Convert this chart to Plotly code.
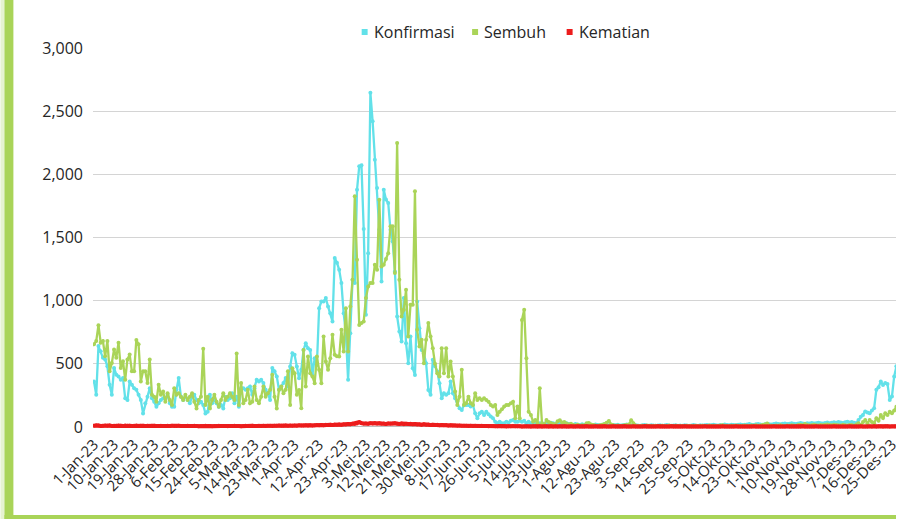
import plotly.graph_objects as go

# ---------------- data (daily, 1-Jan-23 onward) ----------------
konfirmasi = [
    360, 254, 640, 600, 547, 534, 480, 334, 254, 467,
    414, 400, 374, 387, 227, 214, 360, 334, 307, 294,
    254, 214, 107, 187, 240, 307, 227, 200, 160, 187,
    214, 227, 227, 254, 187, 160, 160, 294, 387, 240,
    214, 240, 214, 187, 240, 254, 214, 187, 200, 174,
    107, 120, 254, 187, 214, 187, 160, 174, 147, 240,
    214, 227, 267, 187, 240, 160, 307, 307, 294, 307,
    320, 254, 307, 374, 360, 374, 347, 294, 267, 214,
    467, 440, 400, 294, 320, 347, 387, 320,
    # day 88 onward
    478, 584, 571, 478, 386, 452, 610, 663, 624, 610, 412, 544, 491, 940, 993, 993, 1020, 954, 901, 835, 1337,
    1300,
    1244, 1139, 901, 742, 373, 742, 1165, 1139, 1878, 2063, 2071, 1567, 888, 1376, 2645, 2420, 2116, 1892, 1561, 1152, 1878,
    1800,
    1773, 1561, 1469, 1231, 875, 756, 676, 1020, 663, 505, 716, 465, 412, 993, 782, 610, 584, 505, 293, 254, 531,
    480,
    439, 346, 227, 267, 254, 267, 359, 267, 227, 201, 148, 135, 174, 174, 174, 161, 174, 108, 69, 108, 121, 95, 121,
    100,
    # day 178 onward
    82, 69, 42, 29, 42, 29, 29, 42, 34, 50, 55, 42, 42, 50, 42, 50, 29, 42, 29, 29, 34, 24, 29, 29, 24,
    # day 203 onward
    29, 24, 34, 29, 24, 29, 34, 24, 20, 29,
    24, 20, 18, 24, 20, 16, 22, 18, 20, 16,
    18, 14, 20, 16, 14, 18, 22, 16, 14, 12,
    16, 14, 18, 12, 14, 16, 20, 14, 12, 16,
    14, 12, 10, 14, 16, 12, 10, 14, 12, 10,
    12, 14, 10, 12, 16, 12, 10, 12, 14, 10,
    12, 10, 14, 12, 10, 12, 16, 12, 10, 14,
    12, 14, 16, 12, 14, 18, 14, 12, 16, 14,
    20, 16, 14, 18, 16, 14, 18, 20, 16, 18,
    20, 24, 18, 16, 22, 24, 20, 18, 22, 26,
    22, 20, 24, 28, 24, 22, 26, 28, 24, 26,
    30, 26, 24, 28, 32, 28, 26, 30, 28, 32,
    28, 30, 34, 30, 28, 32, 36, 30, 34, 38,
    34, 40, 36, 32, 38, 42, 36, 40, 34,
    # day 342 onward
    29, 55, 80, 95, 122, 115, 108, 130, 148, 294, 315, 360, 333, 347, 340, 214, 241, 400, 480, 495,
]

sembuh = [
    654, 680, 806, 667, 680, 560, 680, 440, 507, 614,
    547, 667, 467, 520, 374, 534, 574, 440, 440, 689,
    654, 360, 440, 440, 347, 534, 254, 240, 200, 334,
    254, 280, 200, 267, 214, 174, 307, 254, 267, 240,
    214, 254, 214, 240, 267, 200, 147, 214, 240, 620,
    174, 240, 147, 214, 254, 200, 160, 214, 267, 214,
    240, 267, 240, 214, 582, 174, 347, 187, 214, 294,
    187, 200, 320, 214, 187, 240, 320, 240, 267, 294,
    414, 240, 147, 294, 320, 267, 294, 440,
    # day 88 onward
    174, 465, 425, 254, 293, 148, 610, 320, 557, 425, 399, 346, 557, 452, 346, 716, 518, 452, 544, 729, 571,
    560,
    557, 769, 597, 940, 597, 954, 1165, 1826, 1324, 808, 822, 835, 1020, 1112, 1139, 1139, 1284, 1244, 1799, 1271, 1284,
    1330,
    1376, 1588, 1588, 1218, 2248, 1165, 875, 927, 1086, 716, 967, 967, 1865, 769, 637, 690, 505, 690, 822, 716, 624,
    500,
    425, 399, 624, 425, 624, 399, 518, 399, 280, 174, 240, 452, 174, 188, 240, 188, 174, 267, 214, 227, 214, 227, 214,
    200,
    # day 178 onward
    174, 161, 174, 95, 121, 140, 161, 174, 174, 187, 200, 69, 161, 69, 847, 927, 544, 121, 95, 42, 55, 29, 306, 29, 16,
    # day 203 onward
    55, 40, 30, 24, 20, 45, 53, 35, 40, 28,
    20, 26, 16, 12, 18, 10, 14, 12, 30, 32,
    20, 16, 12, 10, 14, 18, 24, 34, 48, 20,
    14, 10, 12, 8, 10, 14, 16, 20, 53, 30,
    12, 8, 6, 10, 8, 12, 10, 6, 8, 10,
    6, 8, 10, 6, 8, 12, 8, 6, 10, 8,
    6, 8, 6, 10, 8, 6, 8, 10, 6, 8,
    10, 8, 6, 12, 8, 10, 6, 8, 12, 14,
    10, 8, 6, 10, 8, 12, 10, 8, 10, 12,
    10, 8, 12, 10, 14, 10, 12, 16, 20, 28,
    12, 10, 8, 12, 10, 14, 10, 8, 12, 10,
    14, 12, 10, 16, 18, 14, 24, 16, 12, 14,
    18, 14, 12, 16, 14, 18, 20, 16, 14, 18,
    16, 14, 12, 18, 14, 12, 16,
    # day 340 onward
    16, 10, 20, 29, 16, 40, 55, 29, 55, 40, 29, 69, 50, 95, 70, 108, 95, 120, 108, 130, 160, 190,
]

kematian = [
    10, 14, 12, 8, 10, 12, 9, 11, 8, 10,
    9, 12, 10, 8, 11, 9, 10, 8, 9, 11,
    8, 10, 9, 7, 9, 8, 10, 9, 8, 7,
    9, 8, 7, 9, 8, 10, 7, 8, 9, 7,
    8, 7, 9, 8, 7, 9, 8, 6, 8, 7,
    9, 7, 8, 6, 8, 7, 9, 8, 7, 8,
    6, 8, 7, 9, 7, 8, 6, 8, 9, 7,
    8, 9, 7, 8, 10, 8, 9, 7, 9, 10,
    8, 10, 9, 11, 9, 10, 12, 10, 11, 9,
    12, 10, 13, 11, 12, 14, 12, 13, 11, 14,
    15, 13, 16, 14, 17, 15, 18, 16, 19, 17,
    20, 18, 22, 20, 24, 22, 26, 24, 28, 38,
    30, 26, 28, 25, 30, 27, 32, 28, 30, 26,
    28, 24, 27, 25, 28, 30, 26, 24, 27, 22,
    25, 23, 26, 21, 24, 20, 22, 18, 21, 17,
    19, 16, 18, 15, 17, 14, 16, 13, 15, 12,
    13, 11, 12, 10, 11, 9, 10, 9, 8, 10, 8, 9, 7, 8, 9, 7, 8, 6, 7, 8,
    6, 5, 7, 5, 6, 4, 6, 5, 7, 5,
    5, 6, 4, 5, 6, 5, 4, 6, 5, 4,
    5, 4, 6, 5, 4, 5, 3, 5, 4, 5,
    4, 5, 3, 4, 5, 4, 3, 5, 4, 3,
    4, 5, 3, 4, 3, 5, 4, 3, 4, 5,
    3, 4, 3, 5, 4, 3, 4, 3, 5, 4,
    3, 4, 5, 3, 4, 3, 4, 5, 3, 4,
    3, 4, 3, 5, 3, 4, 3, 4, 3, 5,
    4, 3, 4, 3, 4, 5, 3, 4, 3, 4,
    3, 4, 3, 4, 5, 3, 4, 3, 4, 3,
    4, 3, 5, 4, 3, 4, 3, 4, 5, 3,
    4, 3, 4, 3, 4, 3, 5, 4, 3, 4,
    3, 4, 3, 4, 3, 5, 4, 3, 4, 3,
    4, 5, 3, 4, 3, 4, 3, 4, 5, 3,
    4, 3, 4, 3, 5, 4, 3, 4, 3, 4,
    3, 4, 5, 3, 4, 3, 4, 3, 4, 5,
    4, 3, 4, 3, 5, 4, 3, 4, 5, 4,
    5, 4, 6, 5, 4, 5, 6, 4, 5, 6,
    5, 4,
]

tick_labels = ["1-Jan-23", "10-Jan-23", "19-Jan-23", "28-Jan-23", "6-Feb-23", "15-Feb-23",
               "24-Feb-23", "5-Mar-23", "14-Mar-23", "23-Mar-23", "1-Apr-23", "12-Apr-23",
               "23-Apr-23", "3-Mei-23", "12-Mei-23", "21-Mei-23", "30-Mei-23", "8-Jun-23",
               "17-Jun-23", "26-Jun-23", "5-Jul-23", "14-Jul-23", "23-Jul-23", "1-Agu-23",
               "12-Agu-23", "23-Agu-23", "3-Sep-23", "14-Sep-23", "25-Sep-23", "5-Okt-23",
               "14-Okt-23", "23-Okt-23", "1-Nov-23", "10-Nov-23", "19-Nov-23", "28-Nov-23",
               "7-Des-23", "16-Des-23", "25-Des-23"]
tick_days = [0, 9, 18, 27, 36, 45, 54, 63, 72, 81, 90, 101, 112, 122, 131, 140, 149, 158,
             167, 176, 185, 194, 203, 212, 223, 234, 245, 256, 267, 277, 286, 295, 304,
             313, 322, 331, 340, 349, 358]

series_names = ["Konfirmasi", "Sembuh", "Kematian"]
series_colors = ["#62E1E9", "#AAD458", "#EC1C1C"]
series_widths = [2.3, 2.3, 4]

# ---------------- figure ----------------
fig = go.Figure()
for name, vals, color, w in zip(series_names, [konfirmasi, sembuh, kematian], series_colors, series_widths):
    fig.add_trace(go.Scatter(
        x=list(range(len(vals))), y=vals, mode="lines+markers", name=name,
        line=dict(color=color, width=w), marker=dict(color=color, size=4),
        showlegend=False, hoverinfo="skip",
    ))

W, H = 900, 519
ML, MR, MT, MB = 93, 0, 48, 87
pw, ph = W - ML - MR, H - MT - MB


def px(xpix):
    return (xpix - ML) / pw


def py(ypix):
    return (H - MB - ypix) / ph


shapes = [
    dict(type="rect", xref="paper", yref="paper", x0=px(0), x1=px(4), y0=py(H), y1=py(0),
         fillcolor="#E6F3D0", line=dict(width=0), layer="below"),
    dict(type="rect", xref="paper", yref="paper", x0=px(4), x1=px(13), y0=py(H), y1=py(0),
         fillcolor="#A9D458", line=dict(width=0), layer="below"),
    dict(type="rect", xref="paper", yref="paper", x0=px(4), x1=px(W), y0=py(H), y1=py(515),
         fillcolor="#A9D458", line=dict(width=0), layer="below"),
]

# legend (key squares + labels), laid out like the original
legend_square_x = [366, 477, 572]
annotations = []
for name, color, sx in zip(series_names, series_colors, legend_square_x):
    shapes.append(dict(type="rect", xref="paper", yref="paper", x0=px(sx - 3), x1=px(sx + 3),
                       y0=py(35), y1=py(29), fillcolor=color, line=dict(width=0)))
    annotations.append(dict(xref="paper", yref="paper", x=px(sx + 7), y=py(32), text=name,
                            showarrow=False, xanchor="left", yanchor="middle",
                            font=dict(size=16, color="#262626")))

fig.update_layout(
    width=W, height=H,
    margin=dict(l=ML, r=MR, t=MT, b=MB),
    paper_bgcolor="white", plot_bgcolor="white",
    font=dict(family="Open Sans, Arial, sans-serif", size=15, color="#262626"),
    shapes=shapes, annotations=annotations, showlegend=False,
    xaxis=dict(range=[-0.45, -0.45 + pw / 2.24], tickmode="array", tickvals=tick_days,
               ticktext=tick_labels, tickangle=-45, showgrid=False, zeroline=False,
               showline=False, ticks="", ticklabeloverflow="allow",
               tickfont=dict(size=15, color="#262626")),
    yaxis=dict(range=[-40, 3000], tickmode="array", tickvals=[0, 500, 1000, 1500, 2000, 2500, 3000],
               tickformat=",", showgrid=True, gridcolor="#D4D4D4", gridwidth=1.3,
               zeroline=True, zerolinecolor="#BDBDBD", zerolinewidth=1.3, showline=False,
               ticks="", ticklabelstandoff=9, tickfont=dict(size=16, color="#262626")),
)

fig.write_html("out.html", config={"displayModeBar": False},
               post_script="document.body.style.margin='0px';document.body.style.overflow='hidden';")
